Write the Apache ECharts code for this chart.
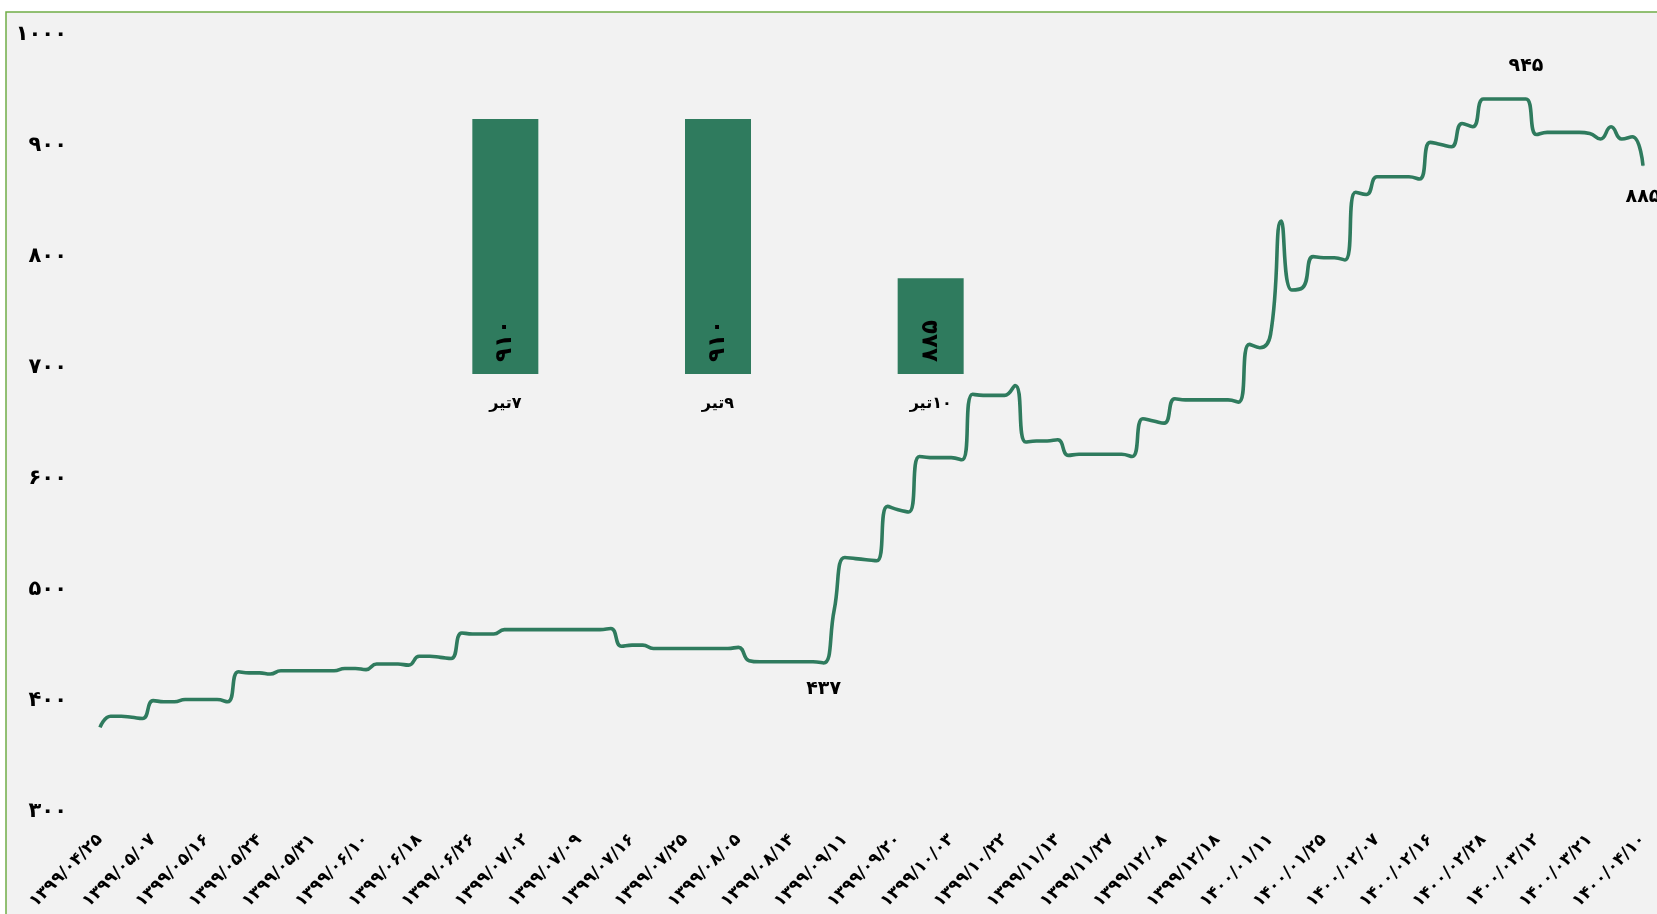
<!DOCTYPE html>
<html>
<head>
<meta charset="utf-8">
<script src="https://cdn.jsdelivr.net/npm/echarts@6/dist/echarts.min.js"></script>
<style>
html,body{margin:0;padding:0;background:#ffffff;}
#chart{width:1657px;height:914px;}
</style>
</head>
<body>
<div id="chart"></div>
<script>
// ---------- DATA ----------
const tickLabels = [
  '۱۳۹۹/۰۴/۲۵','۱۳۹۹/۰۵/۰۷','۱۳۹۹/۰۵/۱۶','۱۳۹۹/۰۵/۲۴','۱۳۹۹/۰۵/۳۱',
  '۱۳۹۹/۰۶/۱۰','۱۳۹۹/۰۶/۱۸','۱۳۹۹/۰۶/۲۶','۱۳۹۹/۰۷/۰۲','۱۳۹۹/۰۷/۰۹',
  '۱۳۹۹/۰۷/۱۶','۱۳۹۹/۰۷/۲۵','۱۳۹۹/۰۸/۰۵','۱۳۹۹/۰۸/۱۴','۱۳۹۹/۰۹/۱۱',
  '۱۳۹۹/۰۹/۲۰','۱۳۹۹/۱۰/۰۳','۱۳۹۹/۱۰/۲۲','۱۳۹۹/۱۱/۱۳','۱۳۹۹/۱۱/۲۷',
  '۱۳۹۹/۱۲/۰۸','۱۳۹۹/۱۲/۱۸','۱۴۰۰/۰۱/۱۱','۱۴۰۰/۰۱/۲۵','۱۴۰۰/۰۲/۰۷',
  '۱۴۰۰/۰۲/۱۶','۱۴۰۰/۰۲/۲۸','۱۴۰۰/۰۳/۱۲','۱۴۰۰/۰۳/۲۱','۱۴۰۰/۰۴/۱۰'
];
const pointsPerLabel = 5;

const prices = [
  379, 389, 389, 388, 387, 403, 402, 402, 404, 404,
  404, 404, 402, 429, 428, 428, 427, 430, 430, 430,
  430, 430, 430, 432, 432, 431, 436, 436, 436, 435,
  443, 443, 442, 441, 464, 463, 463, 463, 467, 467,
  467, 467, 467, 467, 467, 467, 467, 467, 468, 452,
  453, 453, 450, 450, 450, 450, 450, 450, 450, 450,
  451, 439, 438, 438, 438, 438, 438, 438, 437, 485,
  532, 531, 530, 529, 578, 575, 573, 623, 622, 622,
  622, 620, 679, 678, 678, 678, 687, 636, 637, 637,
  638, 624, 625, 625, 625, 625, 625, 623, 657, 655,
  653, 675, 674, 674, 674, 674, 674, 672, 724, 721,
  733, 835, 773, 775, 803, 802, 802, 800, 861, 859,
  875, 875, 875, 875, 873, 906, 904, 902, 923, 920,
  945, 945, 945, 945, 945, 913, 915, 915, 915, 915,
  914, 909, 920, 909, 911, 885
];

// points whose values are written on the chart
const annotatedPoints = [68, 134, 145];
const annotatedPositions = ['bottom', 'top', 'bottom'];

const barCategories = ['۷تیر', '۹تیر', '۱۰تیر'];
const barValues = [910, 910, 885];

const yMin = 300, yMax = 1000, yStep = 100;
const barAxisMin = 870, barAxisMax = 915;

// ---------- HELPERS ----------
const faDigits = '۰۱۲۳۴۵۶۷۸۹';
function toFa(n) { return String(n).replace(/[0-9]/g, d => faDigits[+d]); }
const RLM = '\u200F';

const categories = prices.map((_, i) =>
  i % pointsPerLabel === 0 ? tickLabels[i / pointsPerLabel] : 'p' + i);

const lineColor = '#2F7B5E';
const FONT = 'DejaVu Sans';

const lineData = prices.map((v, i) => {
  const a = annotatedPoints.indexOf(i);
  if (a < 0) return v;
  const pos = annotatedPositions[a];
  return {
    value: v,
    symbol: 'circle',
    symbolSize: 1,
    label: {
      show: true,
      position: pos,
      distance: pos === 'top' ? 23 : (i === prices.length - 1 ? 21 : 16),
      formatter: p => toFa(p.value),
      color: '#000',
      fontFamily: FONT,
      fontWeight: 'bold',
      fontSize: 19
    }
  };
});

const chart = echarts.init(document.getElementById('chart'), null, { renderer: 'canvas' });

chart.setOption({
  animation: false,
  textStyle: { fontFamily: FONT },
  graphic: [{
    type: 'rect',
    z: -10,
    silent: true,
    shape: { x: 6, y: 12, width: 1700, height: 1000 },
    style: { fill: '#f2f2f2', stroke: '#70AD47', lineWidth: 1.5 }
  }],
  grid: [
    { left: 100, right: 14, top: 38, bottom: 99, containLabel: false },
    { left: 399, right: 620, top: 87, bottom: 540, containLabel: false }
  ],
  xAxis: [{
    type: 'category',
    gridIndex: 0,
    data: categories,
    boundaryGap: false,
    axisLine: { show: false },
    axisTick: { show: false },
    splitLine: { show: false },
    axisLabel: {
      interval: pointsPerLabel - 1,
      rotate: 45,
      margin: 22,
      color: '#000',
      fontFamily: FONT,
      fontWeight: 'bold',
      fontSize: 17
    }
  }, {
    type: 'category',
    gridIndex: 1,
    data: barCategories,
    axisLine: { show: false },
    axisTick: { show: false },
    splitLine: { show: false },
    axisLabel: {
      margin: 22,
      color: '#000',
      fontFamily: FONT,
      fontWeight: 'bold',
      fontSize: 16,
      formatter: v => RLM + v
    }
  }],
  yAxis: [{
    type: 'value',
    gridIndex: 0,
    min: yMin,
    max: yMax,
    interval: yStep,
    axisLine: { show: false },
    axisTick: { show: false },
    splitLine: { show: false },
    axisLabel: {
      margin: 33,
      color: '#000',
      fontFamily: FONT,
      fontWeight: 'bold',
      fontSize: 21,
      formatter: v => '{n|' + toFa(v) + '}\n{s|}',
      rich: {
        n: { fontFamily: FONT, fontWeight: 'bold', fontSize: 21, lineHeight: 24, color: '#000' },
        s: { fontSize: 1, height: 7, lineHeight: 7 }
      }
    }
  }, {
    type: 'value',
    gridIndex: 1,
    min: barAxisMin,
    max: barAxisMax,
    show: false,
    splitLine: { show: false }
  }],
  series: [{
    type: 'line',
    xAxisIndex: 0,
    yAxisIndex: 0,
    data: lineData,
    smooth: 0.5,
    symbol: 'none',
    showAllSymbol: true,
    lineStyle: { color: lineColor, width: 3.6 },
    itemStyle: { color: lineColor },
    emphasis: { disabled: true },
    z: 3
  }, {
    type: 'bar',
    xAxisIndex: 1,
    yAxisIndex: 1,
    data: barValues,
    barWidth: 66,
    itemStyle: { color: lineColor },
    label: {
      show: true,
      position: 'insideBottom',
      rotate: 90,
      align: 'left',
      verticalAlign: 'middle',
      distance: 12,
      color: '#000',
      fontFamily: FONT,
      fontWeight: 'bold',
      fontSize: 23,
      formatter: p => toFa(p.value)
    },
    z: 2
  }]
});
</script>
</body>
</html>
